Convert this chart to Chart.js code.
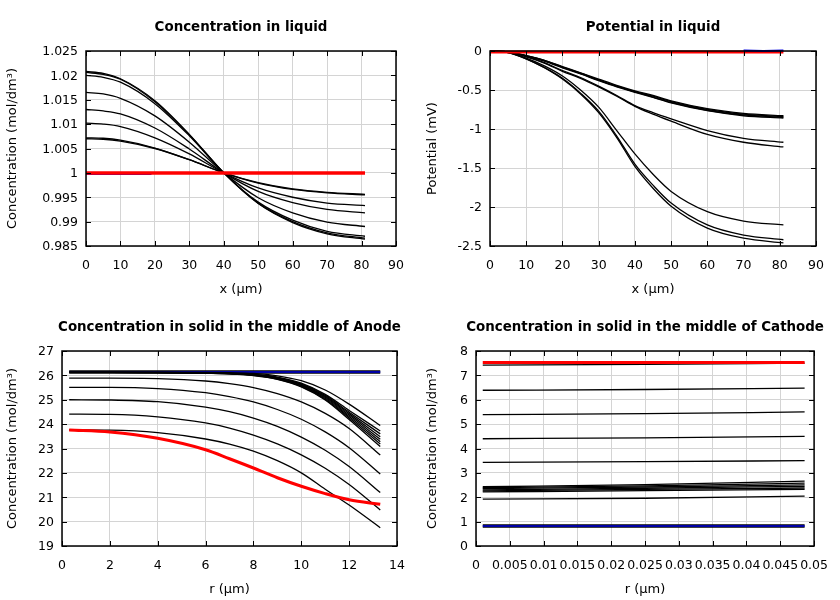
<!DOCTYPE html>
<html>
<head>
<meta charset="utf-8">
<script src="https://cdn.jsdelivr.net/npm/chart.js@4.4.1/dist/chart.umd.min.js"></script>
<style>
  body { margin: 0; background: #fff; }
  #wrap { position: relative; width: 840px; height: 600px; }
  canvas { position: absolute; }
</style>
</head>
<body>
<div id="wrap">
  <canvas id="liquidConc" width="420" height="300" style="left:0;top:0"></canvas>
  <canvas id="liquidPot" width="420" height="300" style="left:420px;top:0"></canvas>
  <canvas id="anodeSolid" width="420" height="300" style="left:0;top:300px"></canvas>
  <canvas id="cathodeSolid" width="420" height="300" style="left:420px;top:300px"></canvas>
</div>
<script>
/* 1. Dados */
// Concentration in liquid (x in µm)
const liquidX = [0, 5, 10, 20, 30, 40, 50, 60, 70, 81];
const liquidConc = [
  [1.0208, 1.0204, 1.0193, 1.0148, 1.0079, 1.0, 0.9937, 0.9898, 0.9875, 0.9864],
  [1.0206, 1.0202, 1.0192, 1.0146, 1.0078, 1.0, 0.9938, 0.9900, 0.9877, 0.9866],
  [1.0200, 1.0196, 1.0186, 1.0142, 1.0076, 1.0, 0.9940, 0.9903, 0.9880, 0.9870],
  [1.0165, 1.0162, 1.0153, 1.0117, 1.0063, 1.0, 0.9949, 0.9918, 0.9899, 0.9890],
  [1.0130, 1.0127, 1.0121, 1.0092, 1.0049, 1.0, 0.9962, 0.9939, 0.9925, 0.9918],
  [1.0102, 1.0100, 1.0095, 1.0072, 1.0039, 1.0, 0.9969, 0.9950, 0.9938, 0.9933],
  [1.0072, 1.0071, 1.0067, 1.0051, 1.0027, 1.0, 0.9979, 0.9966, 0.9959, 0.9955],
  [1.0070, 1.0069, 1.0065, 1.0050, 1.0027, 1.0, 0.9980, 0.9967, 0.9960, 0.9956]
];
const liquidConcRedX = [0, 81];
const liquidConcRed = [1.0, 1.0];
const liquidConcBlueX = [0, 19];
const liquidConcBlue = [0.99975, 0.99975];

// Potential in liquid (mV)
const potX = [0, 5, 10, 15, 20, 25, 30, 35, 40, 45, 50, 60, 70, 81];
const potLines = [
  [0, -0.01, -0.06, -0.12, -0.20, -0.28, -0.36, -0.44, -0.51, -0.57, -0.64, -0.74, -0.80, -0.83],
  [0, -0.01, -0.06, -0.12, -0.205, -0.285, -0.37, -0.45, -0.52, -0.58, -0.65, -0.75, -0.81, -0.84],
  [0, -0.01, -0.065, -0.125, -0.21, -0.29, -0.375, -0.455, -0.525, -0.59, -0.66, -0.76, -0.82, -0.85],
  [0, -0.01, -0.065, -0.13, -0.215, -0.295, -0.38, -0.46, -0.53, -0.595, -0.665, -0.765, -0.83, -0.86],
  [0, -0.015, -0.07, -0.15, -0.25, -0.34, -0.45, -0.57, -0.70, -0.79, -0.87, -1.02, -1.12, -1.17],
  [0, -0.015, -0.075, -0.155, -0.26, -0.35, -0.46, -0.58, -0.71, -0.81, -0.90, -1.07, -1.17, -1.23],
  [0, -0.02, -0.09, -0.19, -0.32, -0.50, -0.72, -1.02, -1.32, -1.58, -1.80, -2.06, -2.18, -2.23],
  [0, -0.02, -0.10, -0.21, -0.35, -0.54, -0.77, -1.09, -1.45, -1.72, -1.95, -2.23, -2.36, -2.42],
  [0, -0.02, -0.10, -0.215, -0.36, -0.55, -0.79, -1.11, -1.48, -1.76, -1.99, -2.27, -2.40, -2.46]
];
const potRedX = [0, 81];
const potRed = [-0.012, -0.012];
const potBlueX = [70, 81];
const potBlue = [0.005, 0.005];

// Concentration in solid, middle of anode (r in µm)
const anodeR = [0.3, 2, 4, 6, 7, 8, 9, 10, 11, 12, 13.3];
const anodeLines = [
  [26.12, 26.12, 26.12, 26.12, 26.11, 26.08, 25.98, 25.78, 25.40, 24.82, 23.94],
  [26.12, 26.12, 26.12, 26.11, 26.09, 26.05, 25.93, 25.68, 25.22, 24.56, 23.72],
  [26.12, 26.12, 26.12, 26.10, 26.08, 26.04, 25.91, 25.65, 25.18, 24.49, 23.60],
  [26.12, 26.12, 26.12, 26.10, 26.08, 26.03, 25.90, 25.63, 25.14, 24.43, 23.48],
  [26.12, 26.12, 26.11, 26.10, 26.07, 26.02, 25.88, 25.60, 25.10, 24.37, 23.38],
  [26.12, 26.12, 26.11, 26.09, 26.07, 26.01, 25.87, 25.58, 25.06, 24.31, 23.28],
  [26.12, 26.12, 26.11, 26.09, 26.06, 26.00, 25.85, 25.55, 25.02, 24.25, 23.18],
  [26.12, 26.12, 26.11, 26.09, 26.06, 25.99, 25.84, 25.53, 24.99, 24.19, 23.08],
  [25.89, 25.89, 25.87, 25.77, 25.66, 25.50, 25.25, 24.91, 24.44, 23.82, 22.73],
  [25.51, 25.51, 25.46, 25.29, 25.13, 24.91, 24.60, 24.20, 23.68, 23.03, 21.95],
  [25.00, 24.99, 24.92, 24.70, 24.51, 24.25, 23.91, 23.47, 22.93, 22.26, 21.19],
  [24.41, 24.40, 24.30, 24.05, 23.84, 23.55, 23.19, 22.74, 22.19, 21.52, 20.48],
  [23.76, 23.75, 23.65, 23.39, 23.18, 22.89, 22.50, 22.00, 21.33, 20.68, 19.75]
];
const anodeRed = [23.76, 23.68, 23.42, 22.95, 22.58, 22.20, 21.80, 21.45, 21.15, 20.90, 20.71];
const anodeFlatR = [0.3, 13.3];
const anodeFlat = [26.14, 26.14];

// Concentration in solid, middle of cathode (r in µm)
const cathodeR = [0.001, 0.025, 0.0486];
const cathodeLines = [
  [7.42, 7.45, 7.50],
  [6.39, 6.42, 6.48],
  [5.39, 5.43, 5.50],
  [4.40, 4.44, 4.50],
  [3.43, 3.46, 3.50],
  [2.43, 2.52, 2.66],
  [2.39, 2.47, 2.58],
  [2.35, 2.42, 2.51],
  [2.30, 2.37, 2.45],
  [2.26, 2.32, 2.38],
  [2.22, 2.27, 2.32],
  [1.92, 1.96, 2.05]
];
const cathodeRed = [7.53, 7.53, 7.53];
const cathodeFlat = [0.82, 0.82, 0.82];

/* 2. Estilo e plugin do quadro (estilo gnuplot) */
Chart.defaults.font.family = "'DejaVu Sans', sans-serif";
Chart.defaults.color = "#000";

const fmt = (v) => String(Number(Number(v).toFixed(4)));

const framePlugin = {
  id: "frame",
  afterDraw(chart, args, opts) {
    const { ctx, chartArea: a } = chart;
    const { x, y } = chart.scales;
    ctx.save();
    ctx.strokeStyle = "#000";
    ctx.lineWidth = 1;
    ctx.beginPath();
    x.ticks.forEach((t) => {
      const p = Math.round(x.getPixelForValue(t.value)) + 0.5;
      ctx.moveTo(p, a.bottom);
      ctx.lineTo(p, a.bottom - 5);
      ctx.moveTo(p, a.top);
      ctx.lineTo(p, a.top + 5);
    });
    y.ticks.forEach((t) => {
      const p = Math.round(y.getPixelForValue(t.value)) + 0.5;
      ctx.moveTo(a.left, p);
      ctx.lineTo(a.left + 5, p);
      ctx.moveTo(a.right, p);
      ctx.lineTo(a.right - 5, p);
    });
    ctx.stroke();
    ctx.lineWidth = 1.5;
    ctx.strokeRect(a.left, a.top, a.right - a.left, a.bottom - a.top);
    ctx.font = "bold 13.4px 'DejaVu Sans'";
    ctx.fillStyle = "#000";
    ctx.textAlign = "center";
    ctx.textBaseline = "middle";
    ctx.fillText(opts.text, (a.left + a.right) / 2, 27.5);
    ctx.restore();
  },
};

function series(xs, ys, color, width, order) {
  return {
    data: xs.map((x, i) => ({ x: x, y: ys[i] })),
    borderColor: color,
    backgroundColor: color,
    borderWidth: width,
    showLine: true,
    pointRadius: 0,
    cubicInterpolationMode: "monotone",
    order: order,
    clip: false,
  };
}

function makeChart(id, c) {
  const grid = { color: "#d4d4d4", drawTicks: false, lineWidth: 1 };
  return new Chart(document.getElementById(id), {
    type: "scatter",
    data: { datasets: c.datasets },
    options: {
      responsive: false,
      animation: false,
      layout: { padding: { left: 0, top: 51, right: c.padRight, bottom: 0 } },
      plugins: {
        legend: { display: false },
        tooltip: { enabled: false },
        frame: { text: c.title },
      },
      scales: {
        x: {
          type: "linear",
          min: c.xMin,
          max: c.xMax,
          grid: grid,
          border: { display: false },
          ticks: { stepSize: c.xStep, callback: fmt, autoSkip: false, maxRotation: 0, padding: 12, font: { size: 12.5 } },
          title: { display: true, text: c.xTitle, font: { size: 13 }, padding: { top: 0, bottom: 3 } },
          afterFit(s) { s.height = 54; },
        },
        y: {
          type: "linear",
          min: c.yMin,
          max: c.yMax,
          grid: grid,
          border: { display: false },
          ticks: { stepSize: c.yStep, callback: fmt, autoSkip: false, padding: 8, labelOffset: 1, font: { size: 12.5 } },
          title: { display: true, text: c.yTitle, font: { size: 13 }, padding: { top: 5, bottom: 0 } },
          afterFit(s) { s.width = c.yWidth; },
        },
      },
    },
    plugins: [framePlugin],
  });
}

/* 3. Monta os quatro gráficos */
document.addEventListener("DOMContentLoaded", function () {
  const concUnit = "Concentration (mol/dm³)";

  makeChart("liquidConc", {
    title: "Concentration in liquid",
    xMin: 0, xMax: 90, xStep: 10,
    yMin: 0.985, yMax: 1.025, yStep: 0.005,
    xTitle: "x (µm)", yTitle: concUnit,
    yWidth: 86, padRight: 24,
    datasets: [
      series(liquidConcRedX, liquidConcRed, "#ff0000", 3.5, 0),
      ...liquidConc.map((ys) => series(liquidX, ys, "#000", 1.3, 1)),
      series(liquidConcBlueX, liquidConcBlue, "#0000dd", 2, 2),
    ],
  });

  makeChart("liquidPot", {
    title: "Potential in liquid",
    xMin: 0, xMax: 90, xStep: 10,
    yMin: -2.5, yMax: 0, yStep: 0.5,
    xTitle: "x (µm)", yTitle: "Potential (mV)",
    yWidth: 70, padRight: 24,
    datasets: [
      series(potBlueX, potBlue, "#0000dd", 2, 0),
      series(potRedX, potRed, "#ff0000", 3, 1),
      ...potLines.map((ys) => series(potX, ys, "#000", 1.3, 2)),
    ],
  });

  makeChart("anodeSolid", {
    title: "Concentration in solid in the middle of Anode",
    xMin: 0, xMax: 14, xStep: 2,
    yMin: 19, yMax: 27, yStep: 1,
    xTitle: "r (µm)", yTitle: concUnit,
    yWidth: 62, padRight: 23,
    datasets: [
      series(anodeR, anodeRed, "#ff0000", 3, 0),
      ...anodeLines.map((ys) => series(anodeR, ys, "#000", 1.3, 1)),
      series(anodeFlatR, anodeFlat, "#0000dd", 1.5, 2),
      series(anodeFlatR, anodeFlat, "#000", 3.5, 3),
    ],
  });

  makeChart("cathodeSolid", {
    title: "Concentration in solid in the middle of Cathode",
    xMin: 0, xMax: 0.05, xStep: 0.005,
    yMin: 0, yMax: 8, yStep: 1,
    xTitle: "r (µm)", yTitle: concUnit,
    yWidth: 56, padRight: 23,
    datasets: [
      series(cathodeR, cathodeRed, "#ff0000", 3, 0),
      series(cathodeR, cathodeFlat, "#0000dd", 1.3, 1),
      series(cathodeR, cathodeFlat, "#000", 3.5, 2),
      ...cathodeLines.map((ys) => series(cathodeR, ys, "#000", 1.3, 3)),
    ],
  });
});
</script>
</body>
</html>
